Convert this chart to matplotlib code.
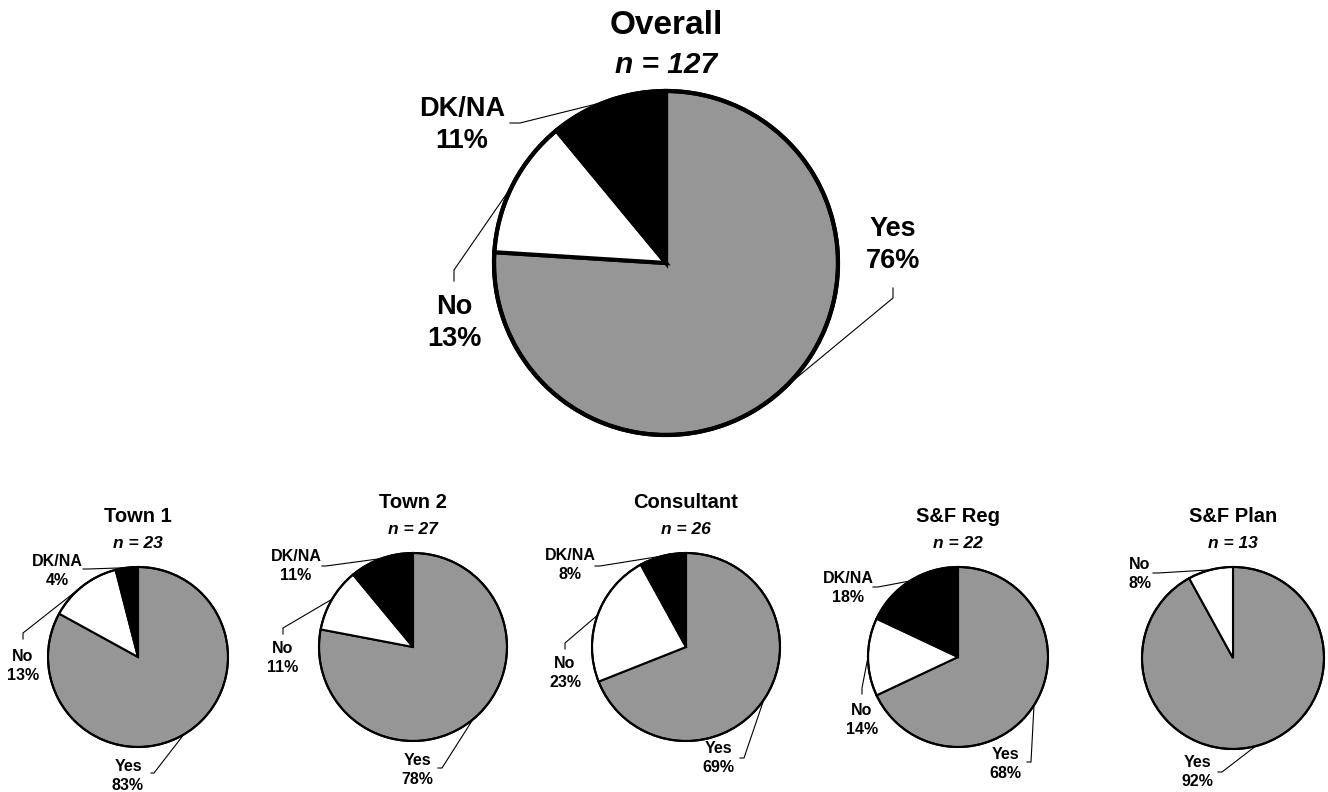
import numpy as np
import matplotlib
matplotlib.use("Agg")
import matplotlib.pyplot as plt
from matplotlib import font_manager
from matplotlib.patches import Circle

# data
groups = ['Overall', 'Town 1', 'Town 2', 'Consultant', 'S&F Reg', 'S&F Plan']
n_sizes = [127, 23, 27, 26, 22, 13]
answers = ['Yes', 'No', 'DK/NA']
yes_pct = [76, 83, 78, 69, 68, 92]
no_pct = [13, 13, 11, 23, 14, 8]
dkna_pct = [11, 4, 11, 8, 18, 0]
colors = ['#969696', 'white', 'black']

# layout (pixel coords, y down): centre, radius, and for each answer
# the text centre plus the two points of the leader before it hits the pie
layout = [
    dict(c=(666, 263), r=172, big=True,
         lab={'Yes': ((893, 245), [(893, 288), (893, 298)]),
              'No': ((454, 323), [(454, 281), (454, 270)]),
              'DK/NA': ((462, 125), [(510, 123), (520, 123)])}),
    dict(c=(138, 657), r=90, big=False,
         lab={'Yes': ((128, 776), [(151, 773), (154, 773)]),
              'No': ((23, 666), [(23, 639), (23, 633)]),
              'DK/NA': ((57, 571), [(83, 569), (88, 569)])}),
    dict(c=(413, 647), r=94, big=False,
         lab={'Yes': ((417, 770), [(438, 768), (442, 768)]),
              'No': ((283, 658), [(283, 634), (283, 628)]),
              'DK/NA': ((296, 566), [(322, 566), (326, 566)])}),
    dict(c=(686, 647), r=94, big=False,
         lab={'Yes': ((718, 758), [(740, 758), (744, 758)]),
              'No': ((565, 673), [(565, 649), (565, 643)]),
              'DK/NA': ((570, 565), [(595, 566), (600, 566)])}),
    dict(c=(958, 657), r=90, big=False,
         lab={'Yes': ((1005, 764), [(1027, 762), (1031, 762)]),
              'No': ((862, 720), [(862, 694), (862, 688)]),
              'DK/NA': ((848, 588), [(873, 587), (878, 587)])}),
    dict(c=(1233, 658), r=91, big=False,
         lab={'Yes': ((1197, 772), [(1218, 772), (1222, 772)]),
              'No': ((1140, 574), [(1153, 573), (1158, 573)])}),
]

installed = {f.name for f in font_manager.fontManager.ttflist}
big_font = 'Liberation Sans' if 'Liberation Sans' in installed else 'DejaVu Sans'
small_font = 'Liberation Sans Narrow' if 'Liberation Sans Narrow' in installed else big_font

fig = plt.figure(figsize=(13.28, 7.92), dpi=100)
ax = fig.add_axes([0, 0, 1, 1])

for i, g in enumerate(groups):
    L = layout[i]
    cx, cy = L['c']
    r = L['r']
    vals = [yes_pct[i], no_pct[i], dkna_pct[i]]
    keep = [k for k in range(3) if vals[k] > 0]
    lw = 3.0 if L['big'] else 1.5
    # y axis gets inverted below: start at -90 and go "counterclock" so it reads clockwise from the top
    wedges, _ = ax.pie([vals[k] for k in keep], colors=[colors[k] for k in keep],
                       startangle=-90, counterclock=True, center=(cx, cy), radius=r,
                       wedgeprops=dict(edgecolor='black', linewidth=lw), frame=True)
    ax.add_patch(Circle((cx, cy), r, fill=False, edgecolor='black', linewidth=lw, zorder=5))

    font = big_font if L['big'] else small_font
    lab_size = 19.5 if L['big'] else 11.5
    for w, k in zip(wedges, keep):
        name = answers[k]
        (tx, ty), pts = L['lab'][name]
        ax.text(tx, ty, name + '\n' + str(vals[k]) + '%', ha='center', va='center',
                fontsize=lab_size, fontweight='bold', family=font, linespacing=1.3)
        mid = np.deg2rad((w.theta1 + w.theta2) / 2)
        ex, ey = cx + r * np.cos(mid), cy + r * np.sin(mid)
        xs = [p[0] for p in pts] + [ex]
        ys = [p[1] for p in pts] + [ey]
        ax.plot(xs, ys, color='black', linewidth=0.8, zorder=6)

    if L['big']:
        ax.text(cx, 25, g, ha='center', va='center', fontsize=24, fontweight='bold', family=font)
        ax.text(cx, 65, 'n = ' + str(n_sizes[i]), ha='center', va='center',
                fontsize=21.5, fontweight='bold', style='italic', family=font)
    else:
        top = cy - r
        ax.text(cx, top - 50, g, ha='center', va='center', fontsize=14.5, fontweight='bold', family=font)
        ax.text(cx, top - 24, 'n = ' + str(n_sizes[i]), ha='center', va='center',
                fontsize=12.5, fontweight='bold', style='italic', family=font)

ax.set_xlim(0, 1328)
ax.set_ylim(792, 0)
ax.set_aspect('equal')
ax.axis('off')
fig.savefig('out.png', dpi=100)
